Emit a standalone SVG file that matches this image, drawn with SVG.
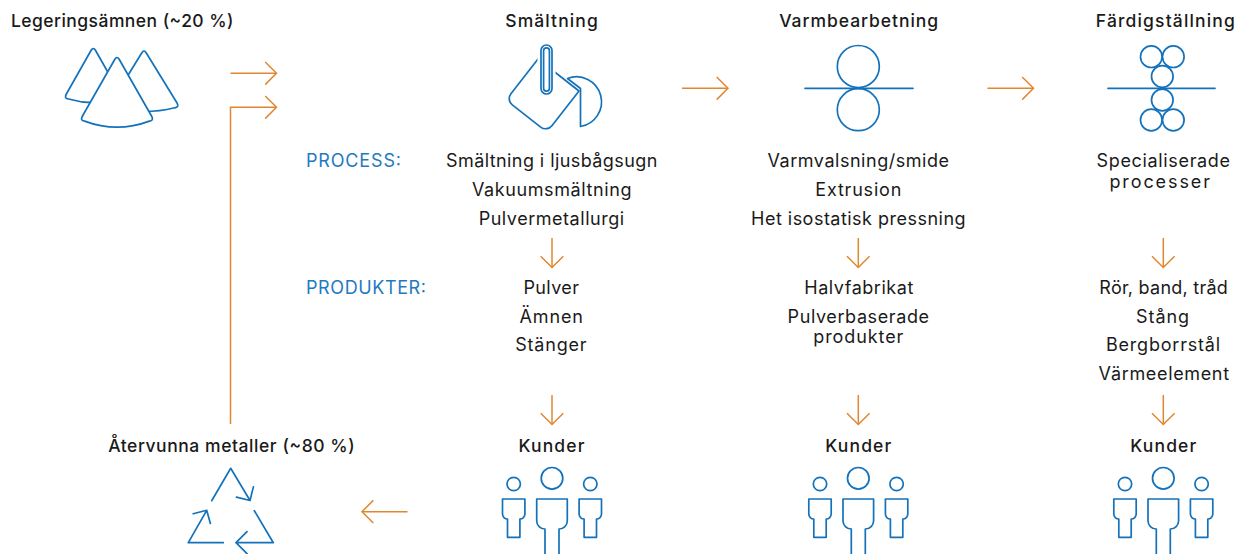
<svg xmlns="http://www.w3.org/2000/svg" xmlns:xlink="http://www.w3.org/1999/xlink" width="1239" height="554" viewBox="0 0 1239 554">
<style>
text{font-family:Inter,"Liberation Sans",sans-serif;fill:#1a1a1a}
.h{font-size:17.5px;font-weight:500}
.b{font-size:18px;font-weight:400}
.lbl{font-size:18px;font-weight:400;fill:#1F7AC0}
.m{text-anchor:middle}
.ic{fill:none;stroke:#1472BA;stroke-width:1.7;stroke-linejoin:round;stroke-linecap:round}
.icw{fill:#fff;stroke:#1472BA;stroke-width:1.7;stroke-linejoin:round}
.con{fill:none;stroke:#E0882F;stroke-width:1.5}
</style>
<defs>
<marker id="ah" viewBox="-13 -13 15 26" markerWidth="15" markerHeight="26" refX="0" refY="0" orient="auto" markerUnits="userSpaceOnUse">
<path d="M-11.3 -11.3 L0 0 L-11.3 11.3" fill="none" stroke="#E0882F" stroke-width="1.5"/>
</marker>
<g id="people">
<circle class="ic" cx="0" cy="478.3" r="10.8"/>
<path class="ic" d="M-7 554 V529 A8.3 8.3 0 0 1 -15.3 520.7 V499 H15.3 V520.7 A8.3 8.3 0 0 1 7 529 V554"/>
<circle class="ic" cx="-38.3" cy="484" r="6.7"/>
<path class="ic" d="M-49.5 499 H-27.1 V514 A5 5 0 0 1 -32.1 519 V537.3 H-44.5 V519 A5 5 0 0 1 -49.5 514 Z"/>
<circle class="ic" cx="38.3" cy="484" r="6.7"/>
<path class="ic" d="M27.1 499 H49.5 V514 A5 5 0 0 1 44.5 519 V537.3 H32.1 V519 A5 5 0 0 1 27.1 514 Z"/>
</g>
</defs>
<rect width="1239" height="554" fill="#fff"/>

<g id="connectors">
<path class="con" d="M230.5 73.3 H276.5" marker-end="url(#ah)"/>
<path class="con" d="M230.5 424 V107.3 H276.5" marker-end="url(#ah)"/>
<path class="con" d="M682 88.3 H728" marker-end="url(#ah)"/>
<path class="con" d="M987.5 88.3 H1033.5" marker-end="url(#ah)"/>
<path class="con" d="M552 238 V267.5" marker-end="url(#ah)"/>
<path class="con" d="M858.3 238 V267.5" marker-end="url(#ah)"/>
<path class="con" d="M1163.3 238 V267.5" marker-end="url(#ah)"/>
<path class="con" d="M552 395 V424.5" marker-end="url(#ah)"/>
<path class="con" d="M858.3 395 V424.5" marker-end="url(#ah)"/>
<path class="con" d="M1163.3 395 V424.5" marker-end="url(#ah)"/>
<path class="con" d="M407.5 511.7 H362" marker-end="url(#ah)"/>
</g>

<g id="alloys">
<text class="h" x="11" y="26.5" textLength="222.5" lengthAdjust="spacing">Legeringsämnen (~20 %)</text>
<path class="icw" d="M91 50.5 Q93.3 46.5 95.6 50.5 L120.5 94.5 Q122.6 98.5 118 99 A86.6 86.6 0 0 1 68.6 99 Q64 98.5 66.1 94.5 Z"/>
<path class="icw" d="M141.7 53 Q144 49 146.3 53 L177.2 103.3 Q179.3 107.3 174.7 107.8 A127 127 0 0 1 113.3 107.8 Q108.7 107.3 110.8 103.3 Z"/>
<path class="icw" d="M114.7 59.5 Q117 55.5 119.3 59.5 L151.8 116.5 Q154 120.5 149.4 121.1 A92 92 0 0 1 84.6 121.1 Q80 120.5 82.2 116.5 Z"/>
</g>

<g id="smelting">
<text class="h m" x="551.5" y="26.5" textLength="92.5" lengthAdjust="spacing">Smältning</text>
<path class="icw" transform="rotate(38 542.5 95.5)" d="M516.5 69.5 H568.5 V113.5 A8 8 0 0 1 560.5 121.5 H524.5 A8 8 0 0 1 516.5 113.5 Z"/>
<path class="icw" d="M567.5 78.5 L580.5 88.5 V126.5 A25 25 0 1 0 567.5 78.5 Z"/>
<rect x="541" y="45" width="11" height="49" rx="5.5" fill="#fff" stroke="#fff" stroke-width="7"/>
<rect class="icw" x="541" y="45" width="11" height="49" rx="5.5"/>
<rect class="ic" x="543.6" y="47.8" width="5.8" height="43.4" rx="2.9" stroke-width="1.3"/>
</g>

<g id="hotworking">
<text class="h m" x="858.7" y="26.5" textLength="159" lengthAdjust="spacing">Varmbearbetning</text>
<circle class="ic" cx="858.3" cy="66.5" r="21"/>
<circle class="ic" cx="858.3" cy="109.7" r="21"/>
<path class="ic" d="M805 88.3 H913"/>
</g>

<g id="finishing">
<text class="h m" x="1165.3" y="26.5" textLength="139" lengthAdjust="spacing">Färdigställning</text>
<circle class="ic" cx="1151.3" cy="56.7" r="10.8"/>
<circle class="ic" cx="1173.3" cy="56.7" r="10.8"/>
<circle class="ic" cx="1162.3" cy="76.5" r="10.8"/>
<circle class="ic" cx="1162.3" cy="100" r="10.8"/>
<circle class="ic" cx="1151.3" cy="120" r="10.8"/>
<circle class="ic" cx="1173.3" cy="120" r="10.8"/>
<path class="ic" d="M1108 88.3 H1215"/>
</g>

<g id="labels">
<text class="lbl" x="306" y="167.3" textLength="95" lengthAdjust="spacing">PROCESS:</text>
<text class="lbl" x="306" y="294" textLength="120" lengthAdjust="spacing">PRODUKTER:</text>
</g>

<g id="smelting-process">
<text class="b m" x="551.7" y="167.3" textLength="211.5" lengthAdjust="spacing">Smältning i ljusbågsugn</text>
<text class="b m" x="551.7" y="196.3" textLength="159.5" lengthAdjust="spacing">Vakuumsmältning</text>
<text class="b m" x="551.4" y="225" textLength="145.5" lengthAdjust="spacing">Pulvermetallurgi</text>
</g>
<g id="smelting-products">
<text class="b m" x="551.2" y="294" textLength="55.5" lengthAdjust="spacing">Pulver</text>
<text class="b m" x="551.2" y="322.7" textLength="63.5" lengthAdjust="spacing">Ämnen</text>
<text class="b m" x="550.9" y="351.2" textLength="71.5" lengthAdjust="spacing">Stänger</text>
</g>

<g id="hotworking-process">
<text class="b m" x="858.3" y="167.3" textLength="181.5" lengthAdjust="spacing">Varmvalsning/smide</text>
<text class="b m" x="858.3" y="196.3" textLength="86" lengthAdjust="spacing">Extrusion</text>
<text class="b m" x="858.3" y="225" textLength="214.5" lengthAdjust="spacing">Het isostatisk pressning</text>
</g>
<g id="hotworking-products">
<text class="b m" x="858.8" y="294" textLength="109" lengthAdjust="spacing">Halvfabrikat</text>
<text class="b m" x="858.3" y="323" textLength="141.5" lengthAdjust="spacing">Pulverbaserade</text>
<text class="b m" x="858.3" y="343" textLength="90" lengthAdjust="spacing">produkter</text>
</g>

<g id="finishing-process">
<text class="b m" x="1163.3" y="167.3" textLength="133.5" lengthAdjust="spacing">Specialiserade</text>
<text class="b m" x="1159.7" y="187.7" textLength="100.5" lengthAdjust="spacing">processer</text>
</g>
<g id="finishing-products">
<text class="b m" x="1163.6" y="294" textLength="128.5" lengthAdjust="spacing">Rör, band, tråd</text>
<text class="b m" x="1162.5" y="322.7" textLength="53" lengthAdjust="spacing">Stång</text>
<text class="b m" x="1163" y="351.2" textLength="114" lengthAdjust="spacing">Bergborrstål</text>
<text class="b m" x="1163.8" y="380" textLength="130.5" lengthAdjust="spacing">Värmeelement</text>
</g>

<g id="customers-1">
<text class="h m" x="551.5" y="451.5" textLength="66" lengthAdjust="spacing">Kunder</text>
<use xlink:href="#people" href="#people" transform="translate(552 0)"/>
</g>
<g id="customers-2">
<text class="h m" x="858.3" y="451.5" textLength="66" lengthAdjust="spacing">Kunder</text>
<use xlink:href="#people" href="#people" transform="translate(858.3 0)"/>
</g>
<g id="customers-3">
<text class="h m" x="1163.3" y="451.5" textLength="66" lengthAdjust="spacing">Kunder</text>
<use xlink:href="#people" href="#people" transform="translate(1163.3 0)"/>
</g>

<g id="recycled">
<text class="h m" x="231.4" y="451.5" textLength="246.5" lengthAdjust="spacing">Återvunna metaller (~80 %)</text>
<path class="ic" d="M211.7 500.7 L230.7 468.3 L250 500.5 M236.4 497.1 L250 500.5 L253.4 486.9"/>
<path class="ic" d="M254.3 510.7 L273.3 542.7 H236 M247 531.7 L236 542.7 L247 553.7"/>
<path class="ic" d="M223.3 542.7 H188.3 L206.7 510.3 M193.2 513.7 L206.7 510.3 L210.4 523.5"/>
</g>
</svg>
